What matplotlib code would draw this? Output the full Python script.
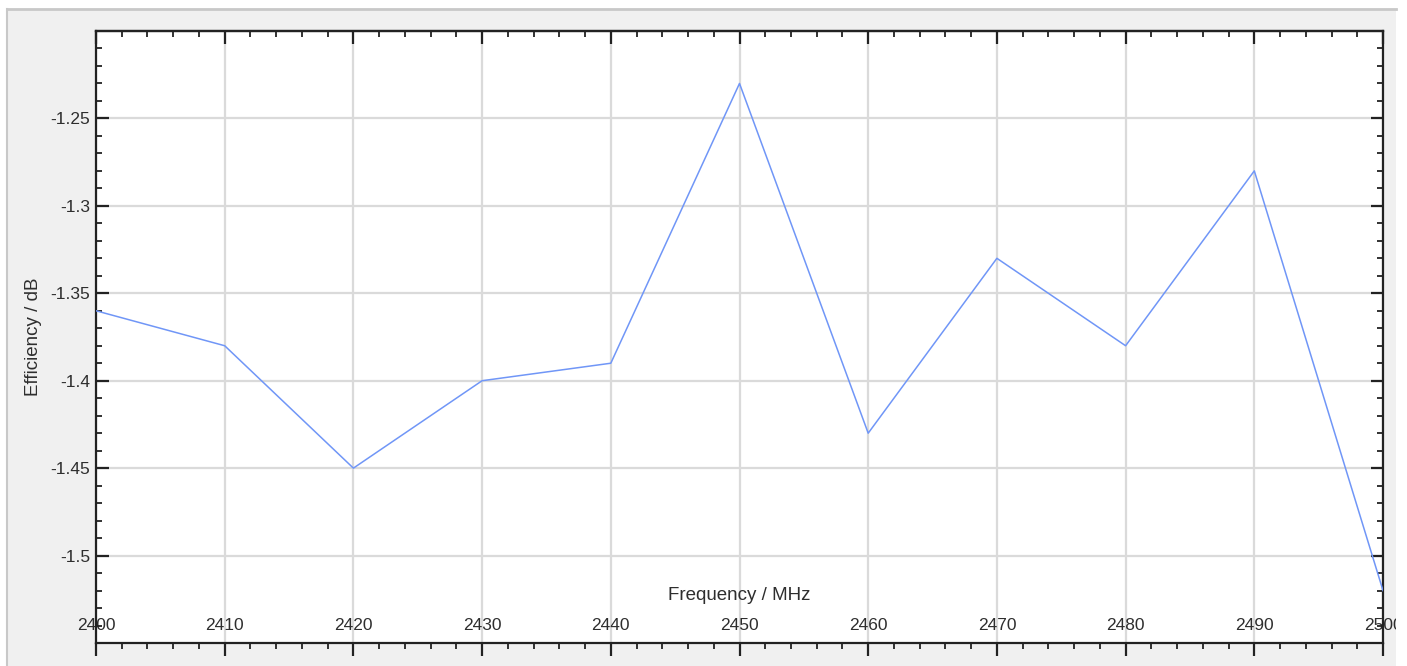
import matplotlib
matplotlib.use("Agg")
import matplotlib.pyplot as plt
from matplotlib.patches import Rectangle
from matplotlib.ticker import MultipleLocator

freq = [2400, 2410, 2420, 2430, 2440, 2450, 2460, 2470, 2480, 2490, 2500]
eff = [-1.36, -1.38, -1.45, -1.40, -1.39, -1.23, -1.43, -1.33, -1.38, -1.28, -1.52]
yticks = [-1.25, -1.3, -1.35, -1.4, -1.45, -1.5]
ytick_labels = ["-1.25", "-1.3", "-1.35", "-1.4", "-1.45", "-1.5"]
xticks = freq
xtick_labels = [str(f) for f in freq]

plt.rcParams['font.family'] = ['Liberation Sans', 'DejaVu Sans']
W, H = 1407, 666
fig = plt.figure(figsize=(W / 100, H / 100), dpi=100)
fig.patch.set_facecolor('white')

# grey panel
panel = Rectangle((7 / W, 0), (1396 - 7) / W, (666 - 9) / H, transform=fig.transFigure,
                  facecolor='#f0f0f0', edgecolor='none', zorder=-10)
fig.add_artist(panel)
fig.add_artist(plt.Line2D([7 / W, 1396 / W], [1 - 9 / H, 1 - 9 / H], transform=fig.transFigure,
                          color='#c8c8c8', lw=2, zorder=-9))
fig.add_artist(plt.Line2D([7 / W, 7 / W], [0, 1 - 9 / H], transform=fig.transFigure,
                          color='#c8c8c8', lw=1.5, zorder=-9))

left, right, top, bottom = 96, 1383, 31, 643
ax = fig.add_axes([left / W, 1 - bottom / H, (right - left) / W, (bottom - top) / H])
ax.set_zorder(1)
ax.set_facecolor('white')
ax.plot(freq, eff, color='#7096f7', lw=1.1, zorder=3)
ax.set_xlim(2400, 2500)
ax.set_ylim(-1.55, -1.20)
ax.set_xticks(xticks)
ax.set_xticklabels(xtick_labels)
ax.set_yticks(yticks)
ax.set_yticklabels(ytick_labels)
ax.xaxis.set_minor_locator(MultipleLocator(2))
ax.yaxis.set_minor_locator(MultipleLocator(0.01))
ax.grid(True, which='major', color='#dadada', lw=1.6)
ax.set_axisbelow(True)

for s in ax.spines.values():
    s.set_color('#222222')
    s.set_linewidth(1.6)

txtc = '#2e2e2e'
ax.tick_params(axis='y', which='both', direction='in', left=True, right=True,
               colors='#222222', labelcolor=txtc, labelsize=12.5)
ax.tick_params(axis='y', which='major', length=9, width=1.6, pad=4)
ax.tick_params(axis='y', which='minor', length=4, width=1.3)
ax.tick_params(axis='x', which='both', direction='out', bottom=True, top=False,
               colors='#222222', labelcolor=txtc, labelsize=12.5)
ax.tick_params(axis='x', which='major', length=9, width=1.6, pad=-27)
ax.tick_params(axis='x', which='minor', length=4, width=1.3)

# inward ticks on top
sec = ax.secondary_xaxis('top')
sec.set_zorder(5)
sec.set_xticks(xticks)
sec.xaxis.set_minor_locator(MultipleLocator(2))
sec.tick_params(axis='x', which='both', direction='in', labeltop=False, colors='#222222')
sec.tick_params(axis='x', which='major', length=9, width=1.6)
sec.tick_params(axis='x', which='minor', length=4, width=1.3)
sec.spines['top'].set_linewidth(1.6)
sec.spines['top'].set_color('#222222')

for lbl in ax.get_xticklabels():
    lbl.set_clip_path(panel)

ax.set_xlabel('Frequency / MHz', fontsize=13.5, color=txtc)
ax.xaxis.label.set_va('center')
ax.xaxis.set_label_coords(0.5, (bottom - 596) / (bottom - top))
ax.set_ylabel('Efficiency / dB', fontsize=13.5, color=txtc)
ax.yaxis.label.set_va('center')
ax.yaxis.label.set_ha('center')
ax.yaxis.set_label_coords((33 - left) / (right - left), 0.5)

fig.savefig('out.png', dpi=100)
